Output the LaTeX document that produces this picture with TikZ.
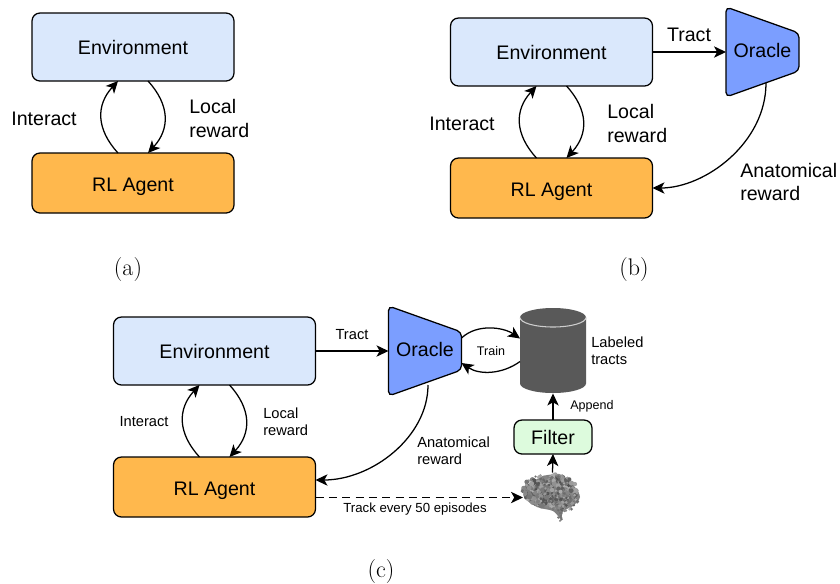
\documentclass[tikz,border=0pt]{standalone}
\usepackage{fontspec}
\setmainfont{Latin Modern Roman}
\newfontfamily\lab{Liberation Sans}
\usetikzlibrary{arrows.meta,calc}
\definecolor{envc}{HTML}{DAE8FC}
\definecolor{agentc}{HTML}{FFB84D}
\definecolor{oraclec}{HTML}{7B9EFF}
\definecolor{filterc}{HTML}{DDFBDD}
\definecolor{cylc}{HTML}{595959}
\newcommand{\fbig}{\lab\fontsize{14.7pt}{17.4pt}\selectfont}
\newcommand{\fsmall}{\lab\fontsize{11pt}{13pt}\selectfont}
\newcommand{\ftiny}{\lab\fontsize{9.4pt}{11pt}\selectfont}
\newcommand{\ftrack}{\lab\fontsize{9.9pt}{11pt}\selectfont}
\tikzset{
  x=0.75pt,y=-0.75pt,
  boxbase/.style={draw=black,line width=0.95pt,rounded corners=6pt,inner sep=0pt,outer sep=0pt,font=\fbig},
  envbox/.style={boxbase,fill=envc,minimum width=151.5pt,minimum height=51pt},
  agentbox/.style={boxbase,fill=agentc,minimum width=151.5pt,minimum height=45pt,text depth=0pt,text height=12pt},
  filterbox/.style={boxbase,fill=filterc,minimum width=58.5pt,minimum height=25.5pt},
  oraclebody/.style={draw=black,line width=0.95pt,fill=oraclec,rounded corners=3.5pt},
  oraclenode/.style={inner sep=0pt,outer sep=0pt,minimum width=54.75pt,minimum height=67.5pt,font=\fbig,text depth=3pt},
  conn/.style={draw=black,line width=0.95pt,-{Stealth[length=9pt,width=8.5pt,inset=2.4pt]}},
  dashconn/.style={conn,dash pattern=on 6pt off 4pt},
  biglabel/.style={font=\fbig,align=left,inner sep=0pt},
  smalllabel/.style={font=\fsmall,align=left,inner sep=0pt},
  tinylabel/.style={font=\ftiny,align=center,inner sep=0pt},
  caplabel/.style={font=\fontsize{18pt}{20pt}\selectfont,inner sep=0pt},
  invisible/.style={inner sep=0pt,outer sep=0pt},
}
\newcommand{\oraclebox}[3]{%
  \draw[oraclebody] (#2-36.5,#3-45) -- (#2+36.5,#3-19) -- (#2+36.5,#3+19) -- (#2-36.5,#3+45) -- cycle;
  \node[oraclenode] (#1) at (#2,#3) {Oracle};}
\newcommand{\looppair}[2]{%
  \draw[conn] ($(#2.north west)+(86,0)$) .. controls +(-22,-24) and +(-22,24) .. ($(#1.south west)+(86,0)$);
  \draw[conn] ($(#1.south west)+(116,0)$) .. controls +(22,24) and +(22,-24) .. ($(#2.north west)+(116,0)$);}
\begin{document}
\begin{tikzpicture}
\path[use as bounding box,fill=white] (0,0) rectangle (840,583);

% (a)
\node[envbox] (envA) at (133,47) {Environment};
\node[agentbox] (agentA) at (133,183) {RL Agent};
\looppair{envA}{agentA}
\node[biglabel,anchor=center] (interactA) at (44,118.5) {Interact};
\node[biglabel,anchor=west] (localA) at (189,118.5) {Local\\reward};
\node[caplabel] (capA) at (128,270) {(a)};

% (b)
\node[envbox] (envB) at (551.5,52) {Environment};
\node[agentbox] (agentB) at (551.5,188) {RL Agent};
\oraclebox{oracleB}{762.5}{52}
\looppair{envB}{agentB}
\draw[conn] (envB.east) -- (oracleB.west);
\draw[conn] ($(oracleB.south west)+(40,-14)$) .. controls +(0,60) and (705,188) .. (agentB.east);
\node[biglabel,anchor=center] (interactB) at (462,123.5) {Interact};
\node[biglabel,anchor=west] (localB) at (607,123.5) {Local\\reward};
\node[biglabel,anchor=center] (tractB) at (689,35) {Tract};
\node[biglabel,anchor=west] (anatB) at (740,182) {Anatomical\\reward};
\node[caplabel] (capB) at (634,270) {(b)};

% (c)
\node[envbox] (envC) at (214.5,351) {Environment};
\node[agentbox] (agentC) at (214.5,487) {RL Agent};
\oraclebox{oracleC}{425}{351}
\looppair{envC}{agentC}
\draw[conn] (envC.east) -- (oracleC.west);
\draw[conn] ($(oracleC.south west)+(39.5,-11)$) .. controls +(0,52) and (372,480) .. ($(agentC.east)+(0,-7)$);

% labelled-tracts store
\node[invisible,minimum width=49.5pt,minimum height=64.5pt] (store) at (553,350.5) {};
\fill[cylc] (520,317.5) arc[start angle=180,end angle=360,x radius=33,y radius=9.5]
  -- (586,383.5) arc[start angle=0,end angle=180,x radius=33,y radius=9.5] -- cycle;
\draw[cylc!30!white,line width=0.8pt] (520,317.5) arc[start angle=180,end angle=0,x radius=33,y radius=9.5];

\node[filterbox] (filt) at (553,437) {Filter};

% brain
\node[invisible,minimum width=44.25pt,minimum height=37.5pt] (brain) at (552.5,497.5) {};
\fill[black!50] plot[smooth cycle] coordinates {(524,497) (529,485) (543,476) (561,475) (574,486) (580,497) (573,506) (563,511) (561,519) (553,511) (537,507)};
\pgfmathsetseed{7}
\foreach \i in {1,...,380}{
  \pgfmathsetmacro{\ba}{rnd*360}
  \pgfmathsetmacro{\br}{sqrt(rnd)}
  \pgfmathsetmacro{\bx}{550+27.5*\br*cos(\ba)}
  \pgfmathsetmacro{\by}{490.5+16.5*\br*sin(\ba)}
  \pgfmathsetmacro{\bg}{int(32+rnd*38)}
  \fill[black!\bg] (\bx,\by) circle[radius=1+rnd*1.6];
}
\foreach \i in {1,...,90}{
  \pgfmathsetmacro{\ba}{rnd*360}
  \pgfmathsetmacro{\br}{sqrt(rnd)}
  \pgfmathsetmacro{\bx}{563+15*\br*cos(\ba)}
  \pgfmathsetmacro{\by}{503+8*\br*sin(\ba)}
  \pgfmathsetmacro{\bg}{int(32+rnd*38)}
  \fill[black!\bg] (\bx,\by) circle[radius=0.8+rnd*1.2];
}
\foreach \i in {1,...,14}{
  \pgfmathsetmacro{\bx}{558+rnd*4}
  \pgfmathsetmacro{\by}{512+rnd*9}
  \fill[black!55] (\bx,\by) circle[radius=1];
}

\draw[conn] ($(oracleC.east)+(0,-13)$) .. controls +(16,-15) and +(-16,-11) .. ($(store.west)+(0,-12)$);
\draw[conn] ($(store.west)+(0,11)$) .. controls +(-18,13) and +(18,12) .. ($(oracleC.east)+(0,12)$);
\draw[conn] (filt.north) -- (store.south);
\draw[conn] (brain.north) -- (filt.south);
\draw[dashconn] (agentC.east|-brain.west) -- (brain.west);

\node[smalllabel,anchor=center] (interactC) at (144,422) {Interact};
\node[smalllabel,anchor=west] (localC) at (263,421.5) {Local\\reward};
\node[smalllabel,align=center] (tractC) at (352,335) {Tract};
\node[smalllabel,anchor=west] (anatC) at (417,451) {Anatomical\\reward};
\node[tinylabel] (trainC) at (491,351) {Train};
\node[smalllabel,anchor=west] (labelC) at (591,351) {Labeled\\tracts};
\node[tinylabel,anchor=west] (appendC) at (570,406) {Append};
\node[tinylabel,font=\ftrack] (trackC) at (415,509) {Track every 50 episodes};
\node[caplabel] (capC) at (381,572) {(c)};
\end{tikzpicture}
\end{document}
